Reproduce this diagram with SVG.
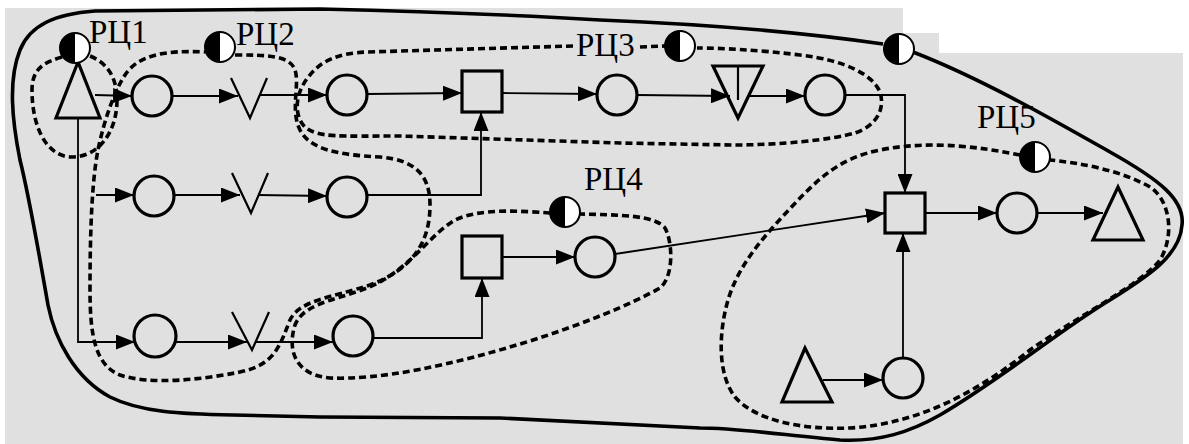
<svg xmlns="http://www.w3.org/2000/svg" width="1189" height="444" viewBox="0 0 1189 444">
<style>
.nd{fill:none;stroke:#000;stroke-width:3.2}
.v{fill:none;stroke:#000;stroke-width:2.2}
.cn{fill:none;stroke:#000;stroke-width:1.8}
.ds{fill:none;stroke:#000;stroke-width:3.6;stroke-dasharray:7 4}
.out{fill:none;stroke:#000;stroke-width:3.6;stroke-linejoin:round}
.lb{font-family:"Liberation Serif","Times New Roman",serif;font-size:33px;fill:#000}
</style>
<defs>
<marker id="ar" markerUnits="userSpaceOnUse" markerWidth="19" markerHeight="15" refX="19" refY="7.5" orient="auto">
<path d="M0,0 L19,7.5 L0,15 Z" fill="#000"/>
</marker>
<g id="half">
<circle r="15" fill="#fff" stroke="#000" stroke-width="2"/>
<path d="M0,-15 A15,15 0 0,0 0,15 Z" fill="#000"/>
</g>
</defs>
<rect width="1189" height="444" fill="#fff"/>
<path d="M5,8 H903 V33 H939 V53 H1183 V444 H5 Z" fill="#e0e0e0"/>

<g id="boundaries">
<path class="out" d="M913,52 C980,78 1050,118 1110,152 C1160,180 1185,200 1182,225 C1180,255 1150,275 1110,300 C1060,330 1000,380 940,415 C910,432 880,442 840,440 C790,436 740,428 700,428 L500,418 L320,417 L233,415 C180,414 140,412 110,397 C75,378 55,340 48,305 C40,260 30,200 20,160 C12,120 8,80 20,50 C30,25 55,14 95,11 L320,9 C450,12 550,17 600,20 C700,24 800,32 883,44"/>
<path class="ds" d="M62,57 C45,62 32,68 32,90 C32,125 45,155 70,157 C100,158 117,130 117,100 C117,75 105,62 90,56"/>
<path class="ds" d="M235,55 C265,55 290,55 295,70 C300,85 290,110 300,130 C310,150 340,155 380,157 C415,160 430,175 430,205 C430,245 410,270 370,285 C330,298 300,300 290,320 C280,345 275,365 240,372 C200,380 150,385 120,375 C95,365 90,335 90,290 C90,230 92,180 98,150 C104,120 115,90 125,75 C138,55 165,50 205,52"/>
<path class="ds" d="M573,46 L367,52 C340,53 322,60 310,75 C295,92 293,115 305,127 C318,138 340,136 400,136 L620,143 L733,145 C780,145 830,140 855,133 C878,125 885,108 880,92 C873,75 845,60 800,55 C760,50 720,48 697,48"/>
<path class="ds" d="M640,47 L665,46"/>
<path class="ds" d="M550,213 C520,211 480,208 455,220 C430,235 415,262 380,282 C345,300 305,300 295,325 C287,350 295,375 330,378 C380,380 450,366 533,340 C580,325 630,305 660,288 C675,275 672,240 665,228 C655,215 620,215 580,214"/>
<path class="ds" d="M1020,155 C980,147 930,140 880,150 C840,158 820,178 800,198 C770,230 740,260 728,300 C718,335 718,375 735,397 C755,420 800,430 850,428 C920,424 980,390 1030,350 C1080,315 1140,285 1160,260 C1175,235 1170,200 1150,187 C1120,170 1080,163 1050,160"/>
</g>

<g id="connectors">
<path class="cn" marker-end="url(#ar)" d="M95,95 L132,96"/>
<path class="cn" marker-end="url(#ar)" d="M172,96 L238,96"/>
<path class="cn" marker-end="url(#ar)" d="M260,95 L327,95"/>
<path class="cn" marker-end="url(#ar)" d="M367,94 L462,93"/>
<path class="cn" marker-end="url(#ar)" d="M502,93 L597,94"/>
<path class="cn" marker-end="url(#ar)" d="M637,95 L730,96"/>
<path class="cn" marker-end="url(#ar)" d="M748,96 L805,96"/>
<path class="cn" marker-end="url(#ar)" d="M845,95 H905 V193"/>
<path class="cn" marker-end="url(#ar)" d="M78,118 V342 H135"/>
<path class="cn" marker-end="url(#ar)" d="M96,195 H134"/>
<path class="cn" marker-end="url(#ar)" d="M174,195 L240,195"/>
<path class="cn" marker-end="url(#ar)" d="M258,195 L327,196"/>
<path class="cn" marker-end="url(#ar)" d="M367,195 H481 V112"/>
<path class="cn" marker-end="url(#ar)" d="M176,342 L247,342"/>
<path class="cn" marker-end="url(#ar)" d="M256,342 L333,342"/>
<path class="cn" marker-end="url(#ar)" d="M373,338 H482 V278"/>
<path class="cn" marker-end="url(#ar)" d="M502,257 L575,257"/>
<path class="cn" marker-end="url(#ar)" d="M615,254 L885,213"/>
<path class="cn" marker-end="url(#ar)" d="M925,213 L997,213"/>
<path class="cn" marker-end="url(#ar)" d="M1037,213 L1103,213"/>
<path class="cn" marker-end="url(#ar)" d="M823,380 L883,380"/>
<path class="cn" marker-end="url(#ar)" d="M903,358 V233"/>
</g>

<g id="src1"><polygon class="nd" points="78,62 56,118 100,118"/></g>
<g id="a1"><circle class="nd" cx="152" cy="96" r="20"/></g>
<g id="v1"><polyline class="v" points="231,78 250,118 267,78"/></g>
<g id="a2"><circle class="nd" cx="347" cy="95" r="20"/></g>
<g id="sq1"><rect class="nd" x="462" y="71" width="40" height="41"/></g>
<g id="a3"><circle class="nd" cx="617" cy="95" r="20"/></g>
<g id="inv"><polygon class="nd" points="713,66 763,66 738,118"/><line class="v" x1="738" y1="66" x2="738" y2="100"/></g>
<g id="a4"><circle class="nd" cx="825" cy="95" r="20"/></g>
<g id="b1"><circle class="nd" cx="154" cy="196" r="20"/></g>
<g id="v2"><polyline class="v" points="232,173 251,213 268,173"/></g>
<g id="b2"><circle class="nd" cx="347" cy="197" r="20"/></g>
<g id="c1"><circle class="nd" cx="155" cy="336" r="21"/></g>
<g id="v3"><polyline class="v" points="232,312 252,350 269,312"/></g>
<g id="c2"><circle class="nd" cx="353" cy="336" r="20"/></g>
<g id="sq2"><rect class="nd" x="462" y="236" width="40" height="42"/></g>
<g id="d1"><circle class="nd" cx="595" cy="257" r="20"/></g>
<g id="sq3"><rect class="nd" x="885" y="193" width="40" height="40"/></g>
<g id="e1"><circle class="nd" cx="1017" cy="213" r="20"/></g>
<g id="sink"><polygon class="nd" points="1118,187 1093,240 1143,240"/></g>
<g id="src2"><polygon class="nd" points="805,348 782,402 832,402"/></g>
<g id="g1"><circle class="nd" cx="903" cy="378" r="20"/></g>

<g id="rc1"><use href="#half" x="75" y="48"/><text class="lb" x="89" y="43">РЦ1</text></g>
<g id="rc2"><use href="#half" x="220" y="47"/><text class="lb" x="236" y="45">РЦ2</text></g>
<g id="rc3"><use href="#half" x="680" y="46"/><text class="lb" x="576" y="56">РЦ3</text></g>
<g id="rc4"><use href="#half" x="565" y="212"/><text class="lb" x="584" y="190">РЦ4</text></g>
<g id="rc5"><use href="#half" x="1035" y="157"/><text class="lb" x="977" y="128">РЦ5</text></g>
<g id="rc0"><use href="#half" x="899" y="49"/></g>
</svg>
